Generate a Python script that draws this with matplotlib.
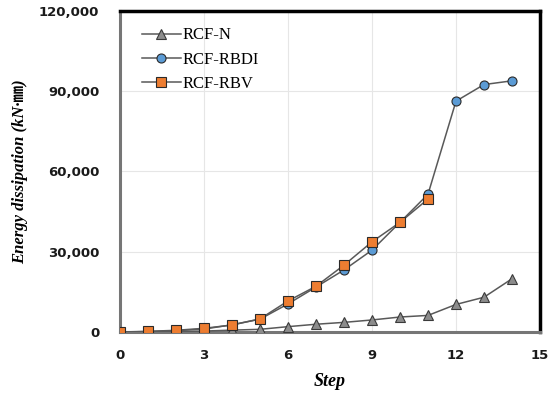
import numpy as np
import matplotlib.pyplot as plt
from matplotlib.ticker import FuncFormatter

# data
steps_n = [0, 1, 2, 3, 4, 5, 6, 7, 8, 9, 10, 11, 12, 13, 14]
rcf_n = [0, 50, 150, 350, 700, 1000, 2000, 2900, 3600, 4500, 5600, 6200, 10300, 13000, 19900]

steps_rbdi = [0, 1, 2, 3, 4, 5, 6, 7, 8, 9, 10, 11, 12, 13, 14]
rcf_rbdi = [0, 150, 500, 1100, 2700, 4800, 10500, 16800, 23200, 30600, 41000, 51500, 86300, 92500, 93900]

steps_rbv = [0, 1, 2, 3, 4, 5, 6, 7, 8, 9, 10, 11]
rcf_rbv = [0, 250, 630, 1380, 2600, 4900, 11600, 17100, 25000, 33700, 41000, 49700]

line_c = '#595959'

plt.rcParams['font.weight'] = 'bold'

fig = plt.figure(figsize=(5.59, 3.99), dpi=100)
ax = fig.add_axes([120/559, 1-332/399, 420/559, 321/399])

ax.plot(steps_n, rcf_n, color=line_c, lw=1.1, marker='^', ms=7,
        mfc='#8c8c8c', mec='#3a3a3a', mew=0.8, label='RCF-N', zorder=3)
ax.plot(steps_rbdi, rcf_rbdi, color=line_c, lw=1.1, marker='o', ms=6.5,
        mfc='#5b9bd5', mec='#2a2a2a', mew=0.8, label='RCF-RBDI', zorder=4)
ax.plot(steps_rbv, rcf_rbv, color=line_c, lw=1.1, marker='s', ms=6.5,
        mfc='#ed7d31', mec='#2a2a2a', mew=0.8, label='RCF-RBV', zorder=5)

ax.set_xlim(0, 15)
ax.set_ylim(0, 120000)
ax.set_xticks([0, 3, 6, 9, 12, 15])
ax.set_yticks([0, 30000, 60000, 90000, 120000])
ax.yaxis.set_major_formatter(FuncFormatter(lambda v, p: f'{int(v):,}'))
ax.grid(True, color='#e6e6e6', lw=0.8)
ax.set_axisbelow(True)
ax.tick_params(axis='x', length=0, pad=12, labelsize=9.5, labelfontfamily='DejaVu Sans',
               labelcolor='#1a1a1a')
ax.tick_params(axis='y', length=0, pad=15, labelsize=9.5, labelfontfamily='DejaVu Sans',
               labelcolor='#1a1a1a')

ax.spines['left'].set_color('#767676')
ax.spines['left'].set_linewidth(2.2)
ax.spines['bottom'].set_color('#767676')
ax.spines['bottom'].set_linewidth(2.2)
ax.spines['top'].set_color('black')
ax.spines['top'].set_linewidth(2.5)
ax.spines['right'].set_color('black')
ax.spines['right'].set_linewidth(2.5)

ax.set_xlabel('Step', family=['Liberation Serif'], style='italic',
              fontweight='bold', fontsize=13, labelpad=8)
ax.set_ylabel('Energy dissipation (kN·㎜)', family=['Liberation Serif', 'Noto Sans CJK SC'],
              style='italic', fontweight='bold', fontsize=12, labelpad=8)

leg = ax.legend(loc='upper left', bbox_to_anchor=(0.025, 0.985), frameon=False,
                prop={'family': 'Liberation Serif', 'size': 12, 'weight': 'normal'},
                handlelength=2.3, handletextpad=0.1, borderaxespad=0.3, labelspacing=0.5)

fig.savefig('out.png', dpi=100)
